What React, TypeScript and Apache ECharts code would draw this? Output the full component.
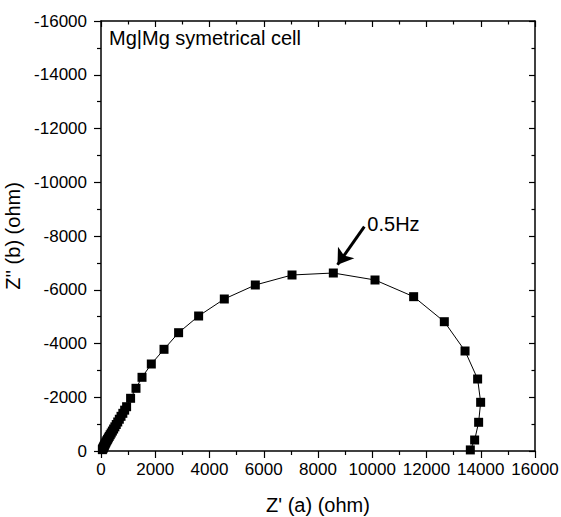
import React, { useEffect, useRef } from "react";
import * as echarts from "echarts";

// Nyquist data of the Mg|Mg symmetrical cell: Z' (ohm) and Z'' (ohm)
const zReal: number[] = [
  50, 62, 75, 88, 100, 115, 130, 148, 168, 190, 215, 243, 273, 305, 340, 378, 420, 465,
  512, 562, 617, 675, 738, 805, 872, 944, 1091, 1290, 1512, 1855, 2323, 2861, 3599, 4546,
  5689, 7042, 8565, 10102, 11526, 12657, 13421, 13885, 13996, 13922, 13775, 13616,
];
const zImag: number[] = [
  -50, -75, -100, -128, -155, -185, -218, -255, -295, -338, -385, -435, -488, -545, -605,
  -670, -742, -818, -898, -985, -1080, -1182, -1290, -1402, -1520, -1648, -1961, -2333,
  -2742, -3237, -3784, -4402, -5023, -5656, -6177, -6549, -6623, -6363, -5742, -4811,
  -3721, -2679, -1812, -1068, -409, -40,
];

// Axis ranges
const xRange = [0, 16000];
const yRange = [-16000, 0];
const tickStep = 2000;

// 0.5 Hz annotation: arrow from the label down to the point
const arrowFrom = [9708, -8346];
const arrowTo = [8720, -6930];
const labelAt = [9708, -8450];
const labelText = "0.5Hz";
const cellLabel = "Mg|Mg symetrical cell";

const FONT = "'Liberation Sans', Arial, Helvetica, sans-serif";

export default function App() {
  const ref = useRef<HTMLDivElement>(null);

  useEffect(() => {
    document.body.style.margin = "0";
    if (!ref.current) return;
    const chart = echarts.init(ref.current, undefined, { renderer: "svg" });

    const axisLine = { show: true, onZero: false, lineStyle: { color: "#000", width: 1.5 } };
    const tickOut = { show: true, length: 7, lineStyle: { color: "#000", width: 1.2 } };
    const tickIn = { show: true, inside: true, length: 6, lineStyle: { color: "#000", width: 1.2 } };
    const minorOut = { show: true, splitNumber: 2, length: 4, lineStyle: { color: "#000", width: 1.2 } };
    const minorIn = { show: true, splitNumber: 2, length: 3.5, lineStyle: { color: "#000", width: 1.2 } };
    const plain = (v: number) => String(v);
    const tickLabel = { color: "#000", fontSize: 17, fontFamily: FONT, formatter: plain };
    const nameStyle = { color: "#000", fontSize: 20, fontFamily: FONT };

    const data = zReal.map((x, i) => [x, zImag[i]]);

    chart.setOption({
      animation: false,
      backgroundColor: "#fff",
      title: {
        text: cellLabel,
        left: 109,
        top: 28,
        padding: 0,
        textStyle: { color: "#000", fontSize: 20, fontWeight: "normal", fontFamily: FONT },
      },
      grid: {
        left: 101,
        right: 26,
        top: 21,
        bottom: 66,
        containLabel: false,
        outerBoundsMode: "none",
      },
      xAxis: [
        {
          type: "value",
          position: "bottom",
          min: xRange[0],
          max: xRange[1],
          interval: tickStep,
          name: "Z' (a) (ohm)",
          nameLocation: "middle",
          nameGap: 44,
          nameTextStyle: nameStyle,
          axisLine,
          axisTick: tickOut,
          minorTick: minorOut,
          axisLabel: { ...tickLabel, margin: 10 },
          splitLine: { show: false },
        },
        {
          type: "value",
          position: "top",
          min: xRange[0],
          max: xRange[1],
          interval: tickStep,
          axisLine,
          axisTick: tickIn,
          minorTick: minorIn,
          axisLabel: { show: false },
          splitLine: { show: false },
        },
      ],
      yAxis: [
        {
          type: "value",
          position: "left",
          inverse: true,
          min: yRange[0],
          max: yRange[1],
          interval: tickStep,
          name: "Z'' (b) (ohm)",
          nameLocation: "middle",
          nameGap: 68,
          nameTextStyle: nameStyle,
          axisLine,
          axisTick: tickOut,
          minorTick: minorOut,
          axisLabel: { ...tickLabel, margin: 14 },
          splitLine: { show: false },
        },
        {
          type: "value",
          position: "right",
          inverse: true,
          min: yRange[0],
          max: yRange[1],
          interval: tickStep,
          axisLine,
          axisTick: tickIn,
          minorTick: minorIn,
          axisLabel: { show: false },
          splitLine: { show: false },
        },
      ],
      series: [
        {
          type: "line",
          data,
          symbol: "rect",
          symbolSize: 9,
          itemStyle: { color: "#000" },
          lineStyle: { color: "#000", width: 1 },
          clip: false,
          z: 3,
          markLine: {
            silent: true,
            symbol: ["none", "arrow"],
            symbolSize: 15,
            lineStyle: { color: "#000", width: 3, type: "solid" },
            label: { show: false },
            data: [[{ coord: arrowFrom }, { coord: arrowTo }]],
          },
          markPoint: {
            silent: true,
            symbol: "circle",
            symbolSize: 0,
            label: {
              show: true,
              position: "right",
              distance: 3,
              formatter: labelText,
              color: "#000",
              fontSize: 20,
              fontFamily: FONT,
            },
            data: [{ coord: labelAt }],
          },
        },
      ],
    });

    return () => chart.dispose();
  }, []);

  return <div ref={ref} style={{ width: 561, height: 517 }} />;
}
